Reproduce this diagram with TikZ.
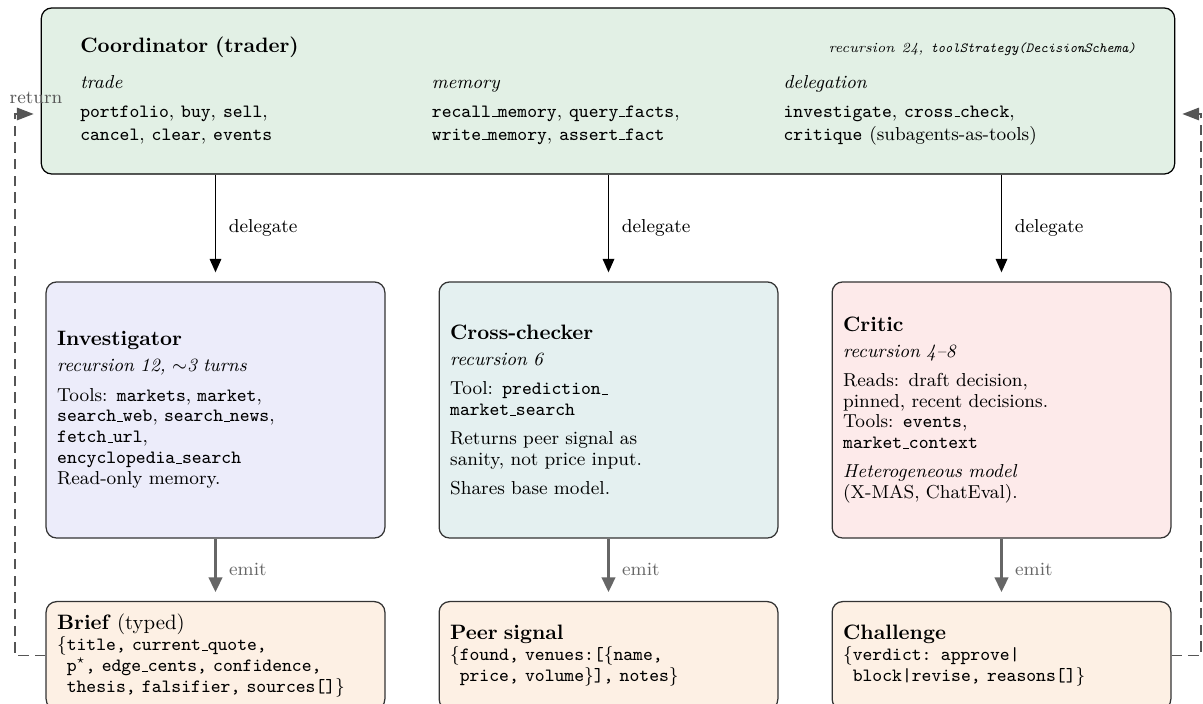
\documentclass[tikz,border=0pt]{standalone}
\usetikzlibrary{arrows.meta}
\definecolor{coordfill}{HTML}{E2F0E5}
\definecolor{invfill}{HTML}{ECECFA}
\definecolor{crossfill}{HTML}{E4F0F0}
\definecolor{critfill}{HTML}{FDEAEA}
\definecolor{outfill}{HTML}{FDF0E4}
\definecolor{edgegray}{HTML}{333333}
\definecolor{retgray}{HTML}{555555}
\definecolor{emitgray}{HTML}{666666}
\newcommand{\usc}{\leavevmode\kern.06em\vbox{\hrule width.3em}}
\newcommand{\bodyfont}{\fontsize{9}{10}\selectfont}
\begin{document}
\begin{tikzpicture}[x=0.48pt,y=-0.48pt,
  box/.style={draw=edgegray, line width=0.6pt, rounded corners=5pt, align=left, inner xsep=5.3pt},
  coordbox/.style={box, draw=black, fill=coordfill, minimum height=79.7pt, text width=506.6pt, inner xsep=18.7pt},
  agent/.style={box, minimum height=122.9pt, text width=152pt, font=\bodyfont},
  outbox/.style={box, draw=edgegray, fill=outfill, minimum height=51.8pt, text width=152pt, font=\bodyfont},
  deleg/.style={-{Triangle[length=6.5pt,width=5.5pt]}, line width=0.9pt, shorten >=4.3pt},
  emitarrow/.style={-{Triangle[length=7pt,width=6.5pt]}, emitgray, line width=1.1pt, shorten >=4.3pt},
  ret/.style={-{Triangle[length=8pt,width=6pt]}, retgray, line width=0.7pt, dash pattern=on 5pt off 3pt, shorten >=3.4pt},
  lbl/.style={font=\small, right, inner sep=2pt, xshift=4pt}
]
\useasboundingbox (0,0) rectangle (1203,704);

\node[coordbox] (coord) at (608,91) {%
{\bfseries Coordinator (trader)}\hspace{0pt plus 1filll}{\fontsize{6.7}{8}\selectfont\itshape recursion 24, \texttt{toolStrategy(DecisionSchema)}}\\[5pt]
\small
\begin{minipage}[t]{168.8pt}\textit{trade}\\[3pt]\texttt{portfolio}, \texttt{buy}, \texttt{sell},\\\texttt{cancel}, \texttt{clear}, \texttt{events}\end{minipage}%
\begin{minipage}[t]{168.8pt}\textit{memory}\\[3pt]\texttt{recall\usc memory}, \texttt{query\usc facts},\\\texttt{write\usc memory}, \texttt{assert\usc fact}\end{minipage}%
\begin{minipage}[t]{168.8pt}\textit{delegation}\\[3pt]\texttt{investigate}, \texttt{cross\usc check},\\\texttt{critique} (subagents-as-tools)\end{minipage}};

\node[agent, fill=invfill] (inv) at (215.5,410) {%
{\normalsize\bfseries Investigator}\\[2.5pt]
\textit{recursion 12, $\sim$3 turns}\\[4pt]
Tools: \texttt{markets}, \texttt{market},\\
\texttt{search\usc web}, \texttt{search\usc news},\\
\texttt{fetch\usc url},\\
\texttt{encyclopedia\usc search}\\
Read-only memory.};

\node[agent, fill=crossfill] (cross) at (608.5,410) {%
{\normalsize\bfseries Cross-checker}\\[2.5pt]
\textit{recursion 6}\\[4pt]
Tool: \texttt{prediction\usc}\\
\texttt{market\usc search}\\[4pt]
Returns peer signal as\\
sanity, not price input.\\[4pt]
Shares base model.};

\node[agent, fill=critfill] (crit) at (1001.5,410) {%
{\normalsize\bfseries Critic}\\[2.5pt]
\textit{recursion 4--8}\\[4pt]
Reads: draft decision,\\
pinned, recent decisions.\\
Tools: \texttt{events},\\
\texttt{market\usc context}\\[4pt]
\textit{Heterogeneous model}\\
(X-MAS, ChatEval).};

\node[outbox, anchor=north] (brief) at (215.5,601) {%
{\normalsize\textbf{Brief} (typed)}\\
\texttt{$\{$title, current\usc quote,}\\
\texttt{\phantom{$\{$}p$^\star$, edge\usc cents, confidence,}\\
\texttt{\phantom{$\{$}thesis, falsifier, sources[]$\}$}};

\node[outbox, anchor=north] (peer) at (608.5,601) {%
{\normalsize\bfseries Peer signal}\\
\texttt{$\{$found, venues:[$\{$name,}\\
\texttt{\phantom{$\{$}price, volume$\}$], notes$\}$}};

\node[outbox, anchor=north] (chall) at (1001.5,601) {%
{\normalsize\bfseries Challenge}\\
\texttt{$\{$verdict: approve|}\\
\texttt{\phantom{$\{$}block|revise, reasons[]$\}$}};

\draw[deleg] (coord.south -| inv.north) -- (inv.north) node[midway, lbl] {delegate};
\draw[deleg] (coord.south -| cross.north) -- (cross.north) node[midway, lbl] {delegate};
\draw[deleg] (coord.south -| crit.north) -- (crit.north) node[midway, lbl] {delegate};

\draw[emitarrow] (inv.south) -- (brief.north) node[midway, lbl, text=emitgray] {emit};
\draw[emitarrow] (cross.south) -- (peer.north) node[midway, lbl, text=emitgray] {emit};
\draw[emitarrow] (crit.south) -- (chall.north) node[midway, lbl, text=emitgray] {emit};

\coordinate (retL) at (15,114);
\coordinate (retR) at (1201,114);
\draw[ret] (brief.west) -| (retL) -- (coord.west |- retL);
\draw[ret] (chall.east) -| (retR) -- (coord.east |- retR);
\node[font=\small, text=retgray, inner sep=0pt] (retlbl) at (36,98) {return};
\end{tikzpicture}
\end{document}
